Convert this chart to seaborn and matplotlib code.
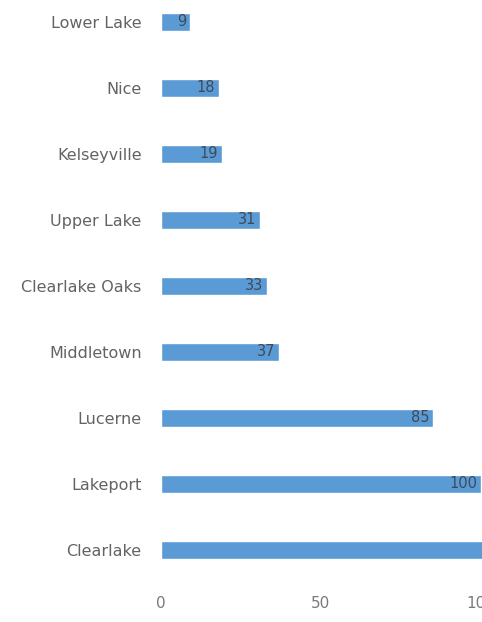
import matplotlib
matplotlib.use("Agg")
import matplotlib.pyplot as plt
import seaborn as sns
import pandas as pd

towns = ["Lower Lake", "Nice", "Kelseyville", "Upper Lake", "Clearlake Oaks",
         "Middletown", "Lucerne", "Lakeport", "Clearlake"]
counts = [9, 18, 19, 31, 33, 37, 85, 100, 125]
xticks = [0, 50, 100]

sns.set_theme(style="white")
plt.rcParams["font.family"] = ["DejaVu Sans"]

df = pd.DataFrame({"town": towns, "count": counts})

W, H = 482, 622
fig = plt.figure(figsize=(W / 100, H / 100), dpi=100)
fig.patch.set_facecolor("white")
# axes extend past the right/top edge to reproduce the cropped page
zero_px, hundred_px = 161, 481
xmax = 140
ax_w_px = (hundred_px - zero_px) * xmax / 100
ax = fig.add_axes([zero_px / W, 39 / H, ax_w_px / W, 594 / H])

sns.barplot(data=df, x="count", y="town", orient="h", color="#5b9bd5",
            width=0.26, ax=ax, saturation=1)
ax.set_xlim(0, xmax)
ax.set_ylim(len(towns) - 0.5, -0.5)
ax.set_xticks(xticks)
ax.set_xlabel("")
ax.set_ylabel("")
for s in ax.spines.values():
    s.set_visible(False)
ax.tick_params(axis="y", length=0, pad=14, labelsize=11.5, labelcolor="#636363")
ax.tick_params(axis="x", length=0, pad=9, labelsize=11, labelcolor="#7a7a7a")

# only the labels that fall inside the cropped page are visible
for p, v in zip(ax.patches, counts):
    if v <= 100:
        ax.text(p.get_width() - 1.2, p.get_y() + p.get_height() / 2, str(v),
                ha="right", va="center", fontsize=10.5, color="#3f4a58")

fig.savefig("out.png", dpi=100)
